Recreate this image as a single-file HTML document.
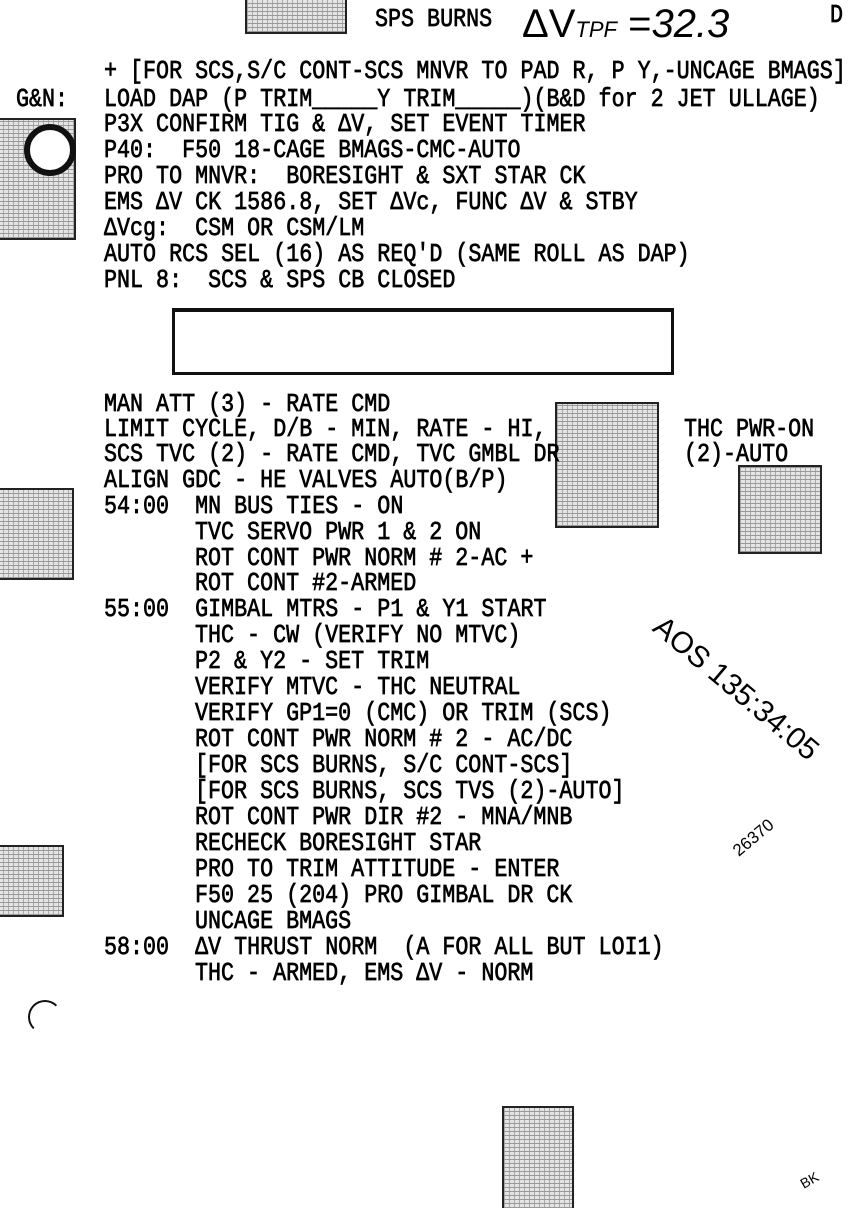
<!DOCTYPE html>
<html><head><meta charset="utf-8"><style>
body{margin:0;width:851px;height:1204px;background:#fff;position:relative;overflow:hidden;font-family:"Liberation Mono","DejaVu Sans Mono",monospace;color:#000}
.l{position:absolute;font-size:21.7px;line-height:26px;white-space:pre;transform:scaleY(1.18);transform-origin:0 50%;-webkit-text-stroke:0.6px #000}
.p{position:absolute;background-color:#e4e4e4;background-image:repeating-linear-gradient(0deg,#999 0 1px,transparent 1px 4px),repeating-linear-gradient(90deg,#aaa 0 1px,transparent 1px 5px);border:2px solid #222}
.h{position:absolute;font-family:"Liberation Sans",sans-serif;white-space:pre}
</style></head><body>
<div class="p" style="left:245px;top:-2px;width:98px;height:34px;border-top:none"></div>
<div class="p" style="left:-2px;top:118px;width:76px;height:118px;border-left:none"></div>
<div style="position:absolute;left:24px;top:124px;width:40px;height:40px;border-radius:50%;background:#fff;border:6px solid #111"></div>
<div class="p" style="left:555px;top:402px;width:100px;height:122px"></div>
<div class="p" style="left:-2px;top:488px;width:74px;height:88px;border-left:none"></div>
<div class="p" style="left:738px;top:465px;width:80px;height:85px"></div>
<div class="p" style="left:-2px;top:845px;width:64px;height:68px;border-left:none"></div>
<div class="p" style="left:502px;top:1106px;width:68px;height:100px;border-bottom:none"></div>
<div style="position:absolute;left:172px;top:308px;width:496px;height:60px;border:3px solid #111;border-top-width:4px"></div>
<div style="position:absolute;left:28px;top:1000px;width:30px;height:30px;border-radius:50%;border:2px solid #111;border-right-color:transparent;border-bottom-color:transparent"></div>

<div class="l" style="left:375px;top:7px">SPS BURNS</div>
<div class="h" style="left:522px;top:2px;font-size:40px;font-weight:300">ΔV<span style="font-size:22px;font-style:italic">TPF</span> =<i>32.3</i></div>
<div class="l" style="left:830px;top:3px">D</div>

<div class="l" style="left:104px;top:59px">+ [FOR SCS,S/C CONT-SCS MNVR TO PAD R, P Y,-UNCAGE BMAGS]</div>
<div class="l" style="left:16px;top:87px">G&amp;N:</div>
<div class="l" style="left:104px;top:87px">LOAD DAP (P TRIM_____Y TRIM_____)(B&amp;D for 2 JET ULLAGE)</div>
<div class="l" style="left:104px;top:112px">P3X CONFIRM TIG &amp; ΔV, SET EVENT TIMER</div>
<div class="l" style="left:104px;top:138px">P40:  F50 18-CAGE BMAGS-CMC-AUTO</div>
<div class="l" style="left:104px;top:164px">PRO TO MNVR:  BORESIGHT &amp; SXT STAR CK</div>
<div class="l" style="left:104px;top:190px">EMS ΔV CK 1586.8, SET ΔVc, FUNC ΔV &amp; STBY</div>
<div class="l" style="left:104px;top:216px">ΔVcg:  CSM OR CSM/LM</div>
<div class="l" style="left:104px;top:242px">AUTO RCS SEL (16) AS REQ'D (SAME ROLL AS DAP)</div>
<div class="l" style="left:104px;top:268px">PNL 8:  SCS &amp; SPS CB CLOSED</div>

<div class="l" style="left:104px;top:392px">MAN ATT (3) - RATE CMD</div>
<div class="l" style="left:104px;top:417px">LIMIT CYCLE, D/B - MIN, RATE - HI,</div>
<div class="l" style="left:684px;top:417px">THC PWR-ON</div>
<div class="l" style="left:104px;top:442px">SCS TVC (2) - RATE CMD, TVC GMBL DR</div>
<div class="l" style="left:684px;top:442px">(2)-AUTO</div>
<div class="l" style="left:104px;top:468px">ALIGN GDC - HE VALVES AUTO(B/P)</div>
<div class="l" style="left:104px;top:494px">54:00  MN BUS TIES - ON</div>
<div class="l" style="left:195px;top:520px">TVC SERVO PWR 1 &amp; 2 ON</div>
<div class="l" style="left:195px;top:546px">ROT CONT PWR NORM # 2-AC +</div>
<div class="l" style="left:195px;top:571px">ROT CONT #2-ARMED</div>
<div class="l" style="left:104px;top:597px">55:00  GIMBAL MTRS - P1 &amp; Y1 START</div>
<div class="l" style="left:195px;top:623px">THC - CW (VERIFY NO MTVC)</div>
<div class="l" style="left:195px;top:649px">P2 &amp; Y2 - SET TRIM</div>
<div class="l" style="left:195px;top:675px">VERIFY MTVC - THC NEUTRAL</div>
<div class="l" style="left:195px;top:701px">VERIFY GP1=0 (CMC) OR TRIM (SCS)</div>
<div class="l" style="left:195px;top:727px">ROT CONT PWR NORM # 2 - AC/DC</div>
<div class="l" style="left:195px;top:753px">[FOR SCS BURNS, S/C CONT-SCS]</div>
<div class="l" style="left:195px;top:779px">[FOR SCS BURNS, SCS TVS (2)-AUTO]</div>
<div class="l" style="left:195px;top:805px">ROT CONT PWR DIR #2 - MNA/MNB</div>
<div class="l" style="left:195px;top:831px">RECHECK BORESIGHT STAR</div>
<div class="l" style="left:195px;top:857px">PRO TO TRIM ATTITUDE - ENTER</div>
<div class="l" style="left:195px;top:883px">F50 25 (204) PRO GIMBAL DR CK</div>
<div class="l" style="left:195px;top:909px">UNCAGE BMAGS</div>
<div class="l" style="left:104px;top:935px">58:00  ΔV THRUST NORM  (A FOR ALL BUT LOI1)</div>
<div class="l" style="left:195px;top:961px">THC - ARMED, EMS ΔV - NORM</div>

<div class="h" style="left:668px;top:610px;font-size:30px;transform:rotate(40deg);transform-origin:0 0">AOS 135:34:05</div>
<div class="h" style="left:730px;top:828px;font-size:17px;transform:rotate(-40deg)">26370</div>
<div class="h" style="left:800px;top:1172px;font-size:14px;transform:rotate(-30deg)">BK</div>
</body></html>
